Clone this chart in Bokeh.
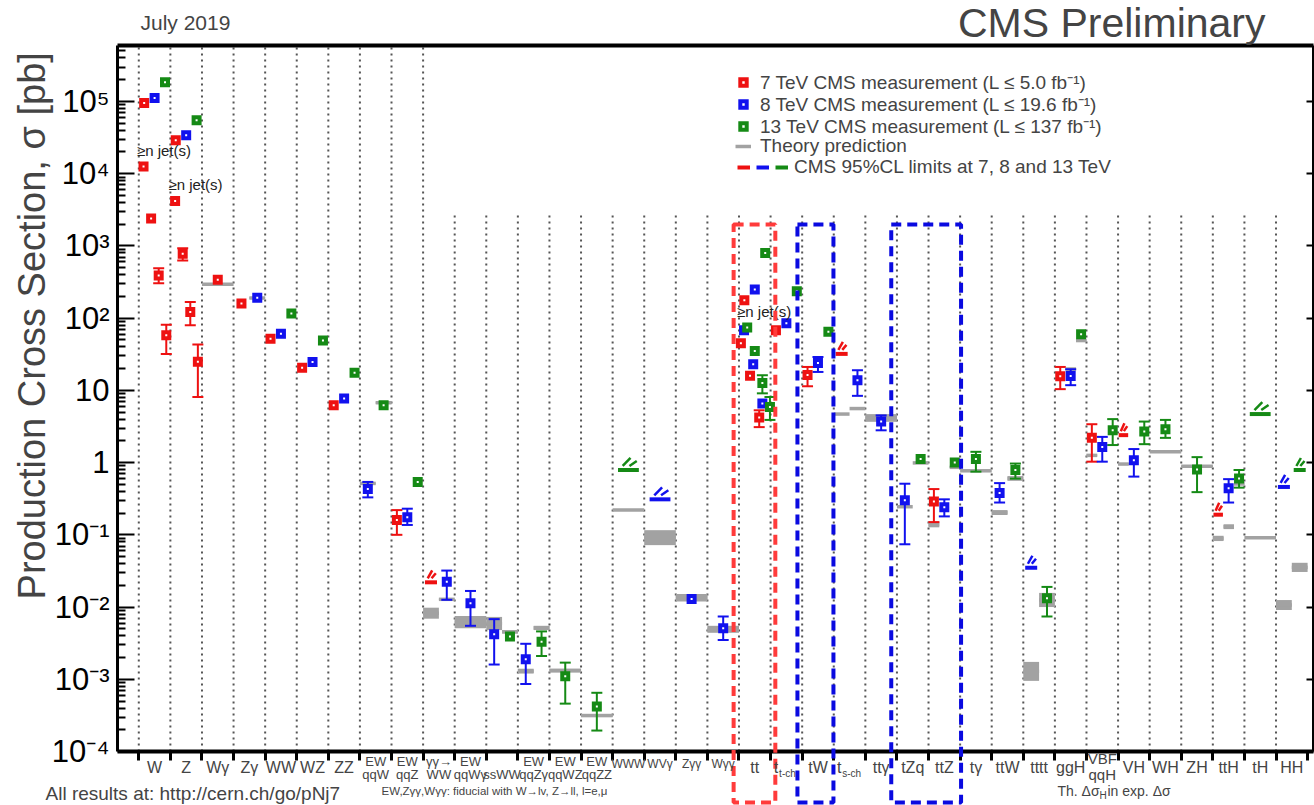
import math
from bokeh.plotting import figure
from bokeh.models import (ColumnDataSource, Range1d, LogAxis, LinearAxis, FixedTicker, Whisker,
                          TeeHead, Label, BoxAnnotation, Legend, LegendItem, CustomJSTickFormatter)
from bokeh.embed import file_html
from bokeh.resources import INLINE

FONT = "Liberation Sans"

# ---------------- data ----------------
categories = ["W", "Z", "Wγ", "Zγ", "WW", "WZ", "ZZ", "EW qqW", "EW qqZ", "γγ→WW",
              "EW qqWγ", "ssWW", "EW qqZγ", "EW qqWZ", "EW qqZZ", "WWW", "WVγ", "Zγγ", "Wγγ",
              "tt", "t t-ch", "tW", "t s-ch", "ttγ", "tZq", "ttZ", "tγ", "ttW", "tttt",
              "ggH", "VBF qqH", "VH", "WH", "ZH", "ttH", "tH", "HH"]
label_line1 = ["W", "Z", "Wγ", "Zγ", "WW", "WZ", "ZZ", "EW", "EW", "γγ→", "EW", "", "EW", "EW", "EW",
               "WWW", "WVγ", "Zγγ", "Wγγ", "tt", "t", "tW", "t", "ttγ", "tZq", "ttZ", "tγ", "ttW",
               "tttt", "ggH", "VBF", "VH", "WH", "ZH", "ttH", "tH", "HH"]
label_line2 = ["", "", "", "", "", "", "", "qqW", "qqZ", "WW", "qqWγ", "ssWW", "qqZγ", "qqWZ", "qqZZ",
               "", "", "", "", "", "", "", "", "", "", "", "", "", "", "", "qqH", "", "", "", "", "", ""]
label_sub = {"t t-ch": "t-ch", "t s-ch": "s-ch"}

# 7 TeV measurements (pb)
m7_cat = ["W", "Z", "Wγ", "Zγ", "WW", "WZ", "ZZ", "EW qqZ", "tt", "t t-ch", "tW", "ttZ", "ggH", "VBF qqH"]
m7_val = [9.5e4, 2.9e4, 340, 160, 52, 20.5, 6.2, 0.16, 177, 68, 16.3, 0.29, 15.7, 2.2]
m7_lo = [None, None, None, None, None, None, None, 0.10, None, None, 11.4, 0.15, 10.4, 1.03]
m7_hi = [None, None, None, None, None, None, None, 0.22, None, None, 21.1, 0.43, 21.1, 3.4]

# 8 TeV measurements (pb)
m8_cat = ["W", "Z", "Zγ", "WW", "WZ", "ZZ", "EW qqW", "EW qqZ", "γγ→WW", "EW qqWγ", "ssWW",
          "EW qqZγ", "Zγγ", "Wγγ", "tt", "t t-ch", "tW", "t s-ch", "ttγ", "tZq", "ttZ", "ttW",
          "ggH", "VBF qqH", "VH", "ttH"]
m8_val = [1.12e5, 3.4e4, 192, 61, 24.7, 7.7, 0.43, 0.175, 0.0224, 0.0113, 0.0042,
          0.0019, 0.0129, 0.0051, 250, 85, 24, 13.8, 3.7, 0.30, 0.24, 0.38,
          15.8, 1.65, 1.08, 0.44]
m8_lo = [None, None, None, None, None, None, 0.33, 0.137, 0.0126, 0.0055, 0.0016,
         0.00086, None, 0.0035, None, None, 18, 8.4, 2.8, 0.074, 0.18, 0.28,
         11.8, 1.03, 0.64, 0.28]
m8_hi = [None, None, None, None, None, None, 0.54, 0.23, 0.032, 0.0167, 0.0068,
         0.0031, None, 0.0074, None, None, 29, 19, 4.5, 0.51, 0.31, 0.52,
         19.6, 2.27, 1.54, 0.59]

# 13 TeV measurements (pb)
m13_cat = ["W", "Z", "WW", "WZ", "ZZ", "EW qqW", "EW qqZ", "ssWW", "EW qqZγ", "EW qqWZ", "EW qqZZ",
           "tt", "t t-ch", "tW", "tZq", "ttZ", "tγ", "ttW", "tttt", "ggH", "VBF qqH", "VH", "WH",
           "ZH", "ttH"]
m13_val = [1.85e5, 5.5e4, 116, 49, 17.5, 6.2, 0.54, 0.0039, 0.0033, 0.0011, 0.00042,
           800, 235, 65, 1.12, 1.0, 1.12, 0.79, 0.0132, 60, 2.8, 2.7, 2.9, 0.8, 0.6]
m13_lo = [None, None, None, None, None, None, None, None, 0.0021, 0.00046, 0.000195,
          None, None, None, None, None, 0.75, 0.60, 0.0074, None, 1.75, 1.8, 2.2, 0.39, 0.45]
m13_hi = [None, None, None, None, None, None, None, None, 0.0046, 0.0017, 0.00065,
          None, None, None, None, None, 1.41, 0.97, 0.019, None, 4.0, 3.7, 3.9, 1.19, 0.79]

# jet multiplicity measurements (>= n jets)
jet_cat = ["W"] * 4 + ["Z"] * 4 + ["tt"] * 10
jet_energy = [7] * 8 + [7, 7, 7, 8, 8, 8, 13, 13, 13, 13]
jet_n = [1, 2, 3, 4, 1, 2, 3, 4, 1, 2, 3, 1, 2, 3, 1, 2, 3, 4]
jet_val = [1.26e4, 2.4e3, 390, 58, 4.2e3, 780, 122, 25, 45, 16, 4.2, 68, 23, 6.6, 74, 35, 12.7, 5.9]
jet_lo = [None, None, 304, 32, None, 630, 80, 8.1, None, None, 3.1, None, None, None, None, None, 9.1, 3.9]
jet_hi = [None, None, 490, 81, None, 930, 167, 43, None, None, 5.3, None, None, None, None, None, 16.2, 8.1]

# 95% CL upper limits (pb)
lim_cat = ["γγ→WW", "t s-ch", "VH", "ttH", "WVγ", "tttt", "HH", "WWW", "tH", "HH"]
lim_energy = [7, 7, 7, 7, 8, 8, 8, 13, 13, 13]
lim_val = [0.022, 32, 2.4, 0.19, 0.31, 0.035, 0.46, 0.79, 4.7, 0.79]

# theory predictions (band low / high, pb); slot = which energy part of the category
th_cat = ["Wγ", "Zγ", "EW qqW", "EW qqW", "γγ→WW", "γγ→WW", "EW qqWγ", "ssWW", "ssWW",
          "EW qqZγ", "EW qqZγ", "EW qqWZ", "EW qqZZ", "WWW", "WVγ", "Zγγ", "Wγγ",
          "t s-ch", "t s-ch", "ttγ", "tZq", "tZq", "ttZ", "ttZ", "tγ", "ttW", "ttW",
          "tttt", "tttt", "ggH", "ggH", "VBF qqH", "VH", "WH", "ZH", "ttH", "ttH", "ttH",
          "tH", "HH", "HH"]
th_slot = ["full", "R", "L", "R", "L", "R", "full", "L", "R",
           "L", "R", "full", "full", "full", "full", "full", "full",
           "L", "R", "full", "L", "R", "L3", "R3", "full", "L", "R",
           "L", "R", "M3", "R3", "L3", "L3", "full", "full", "L3", "M3", "R3",
           "full", "L", "R"]
th_lo = [294, 185, 0.50, 6.5, 0.0069, 0.0125, 0.0051, 0.0048, 0.0043,
         0.0012, 0.0048, 0.00124, 0.00030, 0.22, 0.072, 0.0119, 0.0044,
         4.7, 5.6, 3.67, 0.245, 0.99, 0.127, 0.84, 0.77, 0.188, 0.56,
         0.00095, 0.0100, 19.0, 47, 1.22, 0.93, 1.41, 0.87, 0.082, 0.12, 0.48,
         0.091, 0.0091, 0.0306]
th_hi = [294, 195, 0.53, 7.0, 0.0098, 0.0131, 0.0075, 0.0073, 0.0048,
         0.0014, 0.0055, 0.0014, 0.00033, 0.22, 0.116, 0.0152, 0.0055,
         4.7, 5.6, 4.69, 0.245, 0.99, 0.152, 0.88, 0.77, 0.22, 0.65,
         0.00174, 0.0157, 20.5, 51, 1.30, 0.98, 1.41, 0.91, 0.097, 0.14, 0.55,
         0.091, 0.0125, 0.041]

# ---------------- geometry helpers ----------------
W_PX, H_PX = 1314, 805
FL, FR, FT, FB = 117, 1313, 45, 751          # plot box in page pixels
X0 = -0.674
X1 = 37.0 + (FR - 1307.1) / 31.59
YLO, YHI = -4.0, 5.775
PXDEC = (FB - FT) / (YHI - YLO)
KX = (X1 - X0) / (FR - FL)


def xpx(px):
    return X0 + (px - FL) * KX


def ypx(py):
    return 10 ** (YHI - (py - FT) / PXDEC)


def fpx(d):
    return 10 ** (d / PXDEC)


ci = {c: i for i, c in enumerate(categories)}
COL = {7: "#ee1111", 8: "#1111ee", 13: "#158a15"}
GRAY = "#a2a2a2"

present = {c: set() for c in categories}
for e, cats in ((7, m7_cat), (8, m8_cat), (13, m13_cat)):
    for c in cats:
        present[c].add(e)
for c, e in zip(lim_cat, lim_energy):
    present[c].add(e)
FRAC = {1: [0.5], 2: [0.25, 0.75], 3: [0.17, 0.5, 0.83]}
HALFW = {1: 0.33, 2: 0.19, 3: 0.15}


def slot_x(c, e):
    es = sorted(present[c])
    return ci[c] + FRAC[len(es)][es.index(e)]


def jet_x(c, e, n):
    if c in ("W", "Z"):
        base, step = 0.15, 0.24
    else:
        base, step = {7: (0.06, 0.29), 8: (0.16, 0.29), 13: (0.26, 0.24)}[e]
    return ci[c] + base + step * (n - 1)


# ---------------- figure (frame = whole page, axes at fixed locations) ----------------
p = figure(width=W_PX, height=H_PX, x_range=Range1d(xpx(0), xpx(W_PX)),
           y_range=Range1d(ypx(H_PX), ypx(0)), y_axis_type="log", output_backend="svg",
           toolbar_location=None, min_border=0)
p.title.visible = False
p.grid.visible = False
p.outline_line_color = None
p.background_fill_color = "white"
p.border_fill_color = "white"

decades = [10.0 ** k for k in range(-4, 6)]
minors = [m * 10.0 ** k for k in range(-4, 6) for m in range(2, 10) if m * 10.0 ** k < 10 ** YHI]
sup_fmt = CustomJSTickFormatter(code="""
const e = Math.round(Math.log10(tick));
if (e === 0) return "1";
if (e === 1) return "10";
const sup = {"-":"\u207b","0":"\u2070","1":"\u00b9","2":"\u00b2","3":"\u00b3","4":"\u2074","5":"\u2075","6":"\u2076","7":"\u2077","8":"\u2078","9":"\u2079"};
return "10" + String(e).split("").map(c => sup[c]).join("");
""")

# bottom axis (category boundaries)
xa = p.below[0]
xa.fixed_location = 10 ** YLO
xa.bounds = (X0, X1)
xa.ticker = FixedTicker(ticks=list(range(0, len(categories) + 1)), minor_ticks=[])
xa.formatter = CustomJSTickFormatter(code='return "";')
xa.major_tick_in = 0
xa.major_tick_out = 9
xa.major_tick_line_width = 3
xa.minor_tick_in = 0
xa.minor_tick_out = 0
xa.axis_line_width = 4
xa.major_label_standoff = 0

# left axis
ya = p.left[0]
ya.fixed_location = X0
ya.bounds = (10 ** YLO, 10 ** YHI)
ya.ticker = FixedTicker(ticks=decades, minor_ticks=minors)
ya.formatter = sup_fmt
ya.major_tick_in = 17
ya.major_tick_out = 0
ya.minor_tick_in = 8
ya.minor_tick_out = 0
ya.axis_line_width = 3
ya.major_tick_line_width = 2
ya.minor_tick_line_width = 2
ya.major_label_text_font = FONT
ya.major_label_text_font_size = "31px"
ya.major_label_text_color = "black"
ya.major_label_standoff = 8

# right and top frame axes
ra = LogAxis(ticker=FixedTicker(ticks=decades, minor_ticks=[]),
             formatter=CustomJSTickFormatter(code='return "";'),
             fixed_location=X1, bounds=(10 ** YLO, 10 ** YHI),
             major_tick_in=7, major_tick_out=0, minor_tick_in=0, minor_tick_out=0,
             axis_line_width=3, major_tick_line_width=2, major_label_standoff=0)
p.add_layout(ra, "right")
ta = LinearAxis(ticker=FixedTicker(ticks=[], minor_ticks=[]),
                formatter=CustomJSTickFormatter(code='return "";'),
                fixed_location=10 ** YHI, bounds=(X0, X1), axis_line_width=4,
                major_tick_in=0, major_tick_out=0, minor_tick_in=0, minor_tick_out=0,
                major_label_standoff=0)
p.add_layout(ta, "above")

# dotted separators
nb = len(categories)
sep_x = list(range(0, nb))
sep_top = [10 ** YHI if b <= 9 else ypx(211) for b in sep_x]
p.segment(x0=sep_x, x1=sep_x, y0=[10 ** YLO] * nb, y1=sep_top, line_color="#555555",
          line_width=2, line_dash="2 4", level="underlay")

# theory bands
SLOT = {"full": (0.0, 1.0), "L": (0.0, 0.5), "R": (0.5, 1.0),
        "L3": (0.0, 0.34), "M3": (0.34, 0.67), "R3": (0.67, 1.0)}
th_l = [ci[c] + SLOT[s][0] for c, s in zip(th_cat, th_slot)]
th_r = [ci[c] + SLOT[s][1] for c, s in zip(th_cat, th_slot)]
th_mid = [math.sqrt(a * b) for a, b in zip(th_lo, th_hi)]
p.quad(left=th_l, right=th_r, bottom=th_lo, top=th_hi, fill_color=GRAY, line_color=None,
       level="underlay")
r_th = p.segment(x0=th_l, x1=th_r, y0=th_mid, y1=th_mid, line_color=GRAY, line_width=3.5,
                 level="underlay")

# limits
r_lim = {}
for e in (7, 8, 13):
    bx0, bx1, by, hx0, hx1, hy0, hy1 = [], [], [], [], [], [], []
    for c, ee, v in zip(lim_cat, lim_energy, lim_val):
        if ee != e:
            continue
        xc = slot_x(c, e)
        hw = HALFW[len(present[c])]
        bx0.append(xc - hw)
        bx1.append(xc + hw)
        by.append(v)
        hx0 += [xc - 0.55 * hw, xc + 0.1 * hw]
        hx1 += [xc + 0.2 * hw, xc + 0.8 * hw]
        hy0 += [v * fpx(4), v * fpx(4)]
        hy1 += [v * fpx(12), v * fpx(9)]
    p.segment(x0=hx0, x1=hx1, y0=hy0, y1=hy1, line_color=COL[e], line_width=2.5)
    r_lim[e] = p.segment(x0=bx0, x1=bx1, y0=by, y1=by, line_color=COL[e], line_width=4)

# measurements
meas = {7: (m7_cat, m7_val, m7_lo, m7_hi), 8: (m8_cat, m8_val, m8_lo, m8_hi),
        13: (m13_cat, m13_val, m13_lo, m13_hi)}
r_meas = {}
for e in (7, 8, 13):
    cats, vals, los, his = meas[e]
    xs = [slot_x(c, e) for c in cats]
    ys = list(vals)
    lo = list(los)
    hi = list(his)
    for c, ee, n, v, l, h in zip(jet_cat, jet_energy, jet_n, jet_val, jet_lo, jet_hi):
        if ee == e:
            xs.append(jet_x(c, e, n))
            ys.append(v)
            lo.append(l)
            hi.append(h)
    wsrc = ColumnDataSource(dict(base=[x for x, l in zip(xs, lo) if l is not None],
                                 lower=[l for l in lo if l is not None],
                                 upper=[h for h in hi if h is not None]))
    wk = Whisker(source=wsrc, base="base", lower="lower", upper="upper", dimension="height",
                 line_color=COL[e], line_width=2, level="underlay",
                 upper_head=TeeHead(size=11, line_color=COL[e], line_width=2),
                 lower_head=TeeHead(size=11, line_color=COL[e], line_width=2))
    p.add_layout(wk)
    src = ColumnDataSource(dict(x=xs, y=ys))
    r_meas[e] = p.scatter(x="x", y="y", source=src, marker="square", size=6, line_width=4,
                          line_join="miter", line_color=COL[e], fill_color="white")

# ">= n jet(s)" annotations
for c in ("W", "Z", "tt"):
    v1 = max(v for cc, n, v in zip(jet_cat, jet_n, jet_val) if cc == c and n == 1)
    p.add_layout(Label(x=ci[c] - 0.06, y=v1 * fpx(16), text="≥n jet(s)", text_font=FONT,
                       text_font_size="15px", text_align="left", text_baseline="middle",
                       text_color="#222222"))

# highlight boxes
for l, r, col in [(ci["tt"] - 0.17, ci["t t-ch"] + 0.15, "#ff3b3b"),
                  (ci["tW"] - 0.15, ci["t s-ch"] - 0.01, "#0a0ae0"),
                  (ci["tZq"] - 0.18, ci["tγ"] + 0.03, "#0a0ae0")]:
    p.add_layout(BoxAnnotation(left=l, right=r, top=ypx(224), bottom=ypx(802), fill_alpha=0,
                               line_color=col, line_width=4, line_dash="10 6", line_alpha=1))

# legend: one legend per row so that every row sits at its own height
ROW_H = 30
LEG_STYLE = dict(glyph_height=ROW_H, label_height=ROW_H, padding=0, margin=0,
                 border_line_alpha=0, background_fill_alpha=0, label_text_font=FONT,
                 label_text_font_size="19px")
rows = [("7 TeV CMS measurement (L ≤ 5.0 fb⁻¹)", r_meas[7], 82),
        ("8 TeV CMS measurement (L ≤ 19.6 fb⁻¹)", r_meas[8], 104),
        ("13 TeV CMS measurement (L ≤ 137 fb⁻¹)", r_meas[13], 125.5),
        ("Theory prediction", r_th, 146)]
for text, rend, yc in rows:
    p.add_layout(Legend(items=[LegendItem(label=text, renderers=[rend])],
                        location=(735, H_PX - (yc + ROW_H / 2)), orientation="vertical",
                        glyph_width=16, label_standoff=9, **LEG_STYLE))
p.add_layout(Legend(items=[
    LegendItem(label=" ", renderers=[r_lim[7]]),
    LegendItem(label=" ", renderers=[r_lim[8]]),
    LegendItem(label="CMS 95%CL limits at 7, 8 and 13 TeV", renderers=[r_lim[13]])],
    location=(737, H_PX - (167 + ROW_H / 2)), orientation="horizontal", glyph_width=13,
    label_width=0, spacing=0, label_standoff=6, **LEG_STYLE))

# category labels below the axis
small_single = {"WWW", "WVγ", "Zγγ", "Wγγ"}
for c, l1, l2 in zip(categories, label_line1, label_line2):
    xc = ci[c] + 0.5
    if c in label_sub:
        p.add_layout(Label(x=ci[c] + 0.17, y=ypx(767), text=l1, text_font=FONT, text_font_size="16px",
                           text_align="center", text_baseline="middle"))
        p.add_layout(Label(x=ci[c] + 0.27, y=ypx(773), text=label_sub[c], text_font=FONT,
                           text_font_size="10px", text_align="left", text_baseline="middle"))
    elif c == "VBF qqH":
        p.add_layout(Label(x=xc, y=ypx(758), text=l1, text_font=FONT, text_font_size="15px",
                           text_align="center", text_baseline="middle"))
        p.add_layout(Label(x=xc, y=ypx(774), text=l2, text_font=FONT, text_font_size="15px",
                           text_align="center", text_baseline="middle"))
    elif l2:
        if l1:
            p.add_layout(Label(x=xc, y=ypx(761), text=l1, text_font=FONT, text_font_size="13px",
                               text_align="center", text_baseline="middle"))
        p.add_layout(Label(x=xc, y=ypx(774), text=l2, text_font=FONT, text_font_size="13px",
                           text_align="center", text_baseline="middle"))
    elif c in small_single:
        p.add_layout(Label(x=xc, y=ypx(763), text=l1, text_font=FONT, text_font_size="12px",
                           text_align="center", text_baseline="middle"))
    else:
        p.add_layout(Label(x=xc, y=ypx(767), text=l1, text_font=FONT, text_font_size="16px",
                           text_align="center", text_baseline="middle"))

# titles and notes
p.add_layout(Label(x=xpx(31), y=ypx(320), text="Production Cross Section,  σ [pb]", angle=math.pi / 2,
                   text_font=FONT, text_font_size="38px", text_align="center", text_baseline="middle"))
p.add_layout(Label(x=xpx(140), y=ypx(22), text="July 2019", text_font=FONT, text_font_size="21px",
                   text_align="left", text_baseline="middle"))
p.add_layout(Label(x=xpx(1265), y=ypx(22), text="CMS Preliminary", text_font=FONT,
                   text_font_size="41px", text_align="right", text_baseline="middle"))
p.add_layout(Label(x=xpx(45), y=ypx(793), text="All results at: http://cern.ch/go/pNj7", text_font=FONT,
                   text_font_size="19px", text_align="left", text_baseline="middle"))
p.add_layout(Label(x=xpx(381), y=ypx(790), text="EW,Zγγ,Wγγ: fiducial with W→lv, Z→ll, l=e,μ",
                   text_font=FONT, text_font_size="11.5px", text_align="left", text_baseline="middle"))
p.add_layout(Label(x=xpx(1057), y=ypx(790), text="Th. Δσ", text_font=FONT, text_font_size="14px",
                   text_align="left", text_baseline="middle"))
p.add_layout(Label(x=xpx(1099), y=ypx(795), text="H", text_font=FONT, text_font_size="10px",
                   text_align="left", text_baseline="middle"))
p.add_layout(Label(x=xpx(1107), y=ypx(790), text="in exp. Δσ", text_font=FONT, text_font_size="14px",
                   text_align="left", text_baseline="middle"))

open("out.html", "w").write(file_html(p, INLINE))
